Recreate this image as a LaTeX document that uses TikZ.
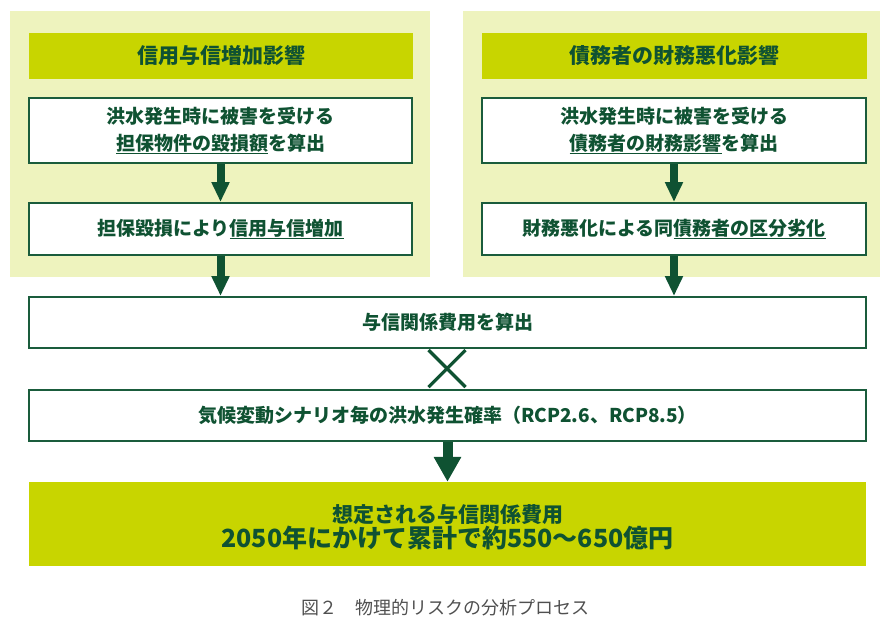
\documentclass[tikz,border=0pt]{standalone}
\usepackage{fontspec}
\setmainfont{Noto Sans CJK JP}
\usetikzlibrary{arrows.meta}
\definecolor{panelc}{HTML}{EEF3BE}
\definecolor{headc}{HTML}{C8D500}
\definecolor{dgreen}{HTML}{0F5232}
\definecolor{bordc}{HTML}{1A5C3C}
\definecolor{capc}{HTML}{505050}
\newcommand\ulx[1]{\setbox0\hbox{#1}\rlap{\color{dgreen}\rule[-3.5pt]{\wd0}{1.3pt}}\box0}
\tikzset{
  panel/.style={fill=panelc, draw=none, inner sep=0pt},
  headbox/.style={fill=headc, draw=none, inner sep=0pt, text=dgreen,
    font=\bfseries\fontsize{21}{26}\selectfont},
  stepbox/.style={fill=white, draw=bordc, line width=2pt, inner sep=0pt, text=dgreen,
    align=center, font=\bfseries\fontsize{19}{27}\selectfont},
  resultbox/.style={fill=headc, draw=none, inner sep=0pt},
  resulttext/.style={inner sep=0pt, text=dgreen, align=center},
  smallarr/.style={draw=dgreen, line width=8pt, -{Triangle[width=17pt,length=20pt]}},
  bigarr/.style={draw=dgreen, line width=10pt, -{Triangle[width=26pt,length=25pt]}},
  xmark/.style={draw=dgreen, line width=3.2pt},
}
\begin{document}
\begin{tikzpicture}[x=1pt,y=-1pt]
\useasboundingbox (0,0) rectangle (880,625);
% panels
\node[panel, minimum width=420pt, minimum height=266pt] (PL) at (220,144) {};
\node[panel, minimum width=417pt, minimum height=266pt] (PR) at (671.5,144) {};
% headers
\node[headbox, minimum width=384pt, minimum height=46pt] (HL) at (221,56) {信用与信増加影響};
\node[headbox, minimum width=385pt, minimum height=46pt] (HR) at (674.5,56) {債務者の財務悪化影響};
% step boxes
\node[stepbox, minimum width=383pt, minimum height=65pt] (L1) at (220.5,130.5)
  {洪水発生時に被害を受ける\\\ulx{担保物件の毀損額}を算出};
\node[stepbox, minimum width=383pt, minimum height=52pt] (L2) at (220.5,229)
  {担保毀損により\ulx{信用与信増加}};
\node[stepbox, minimum width=384pt, minimum height=65pt] (R1) at (674,130.5)
  {洪水発生時に被害を受ける\\\ulx{債務者の財務影響}を算出};
\node[stepbox, minimum width=384pt, minimum height=52pt] (R2) at (674,229)
  {財務悪化による同\ulx{債務者の区分劣化}};
\node[stepbox, minimum width=837pt, minimum height=51pt] (M) at (447.5,322.5)
  {与信関係費用を算出};
\node[stepbox, minimum width=837pt, minimum height=51pt] (P) at (447.5,415.5)
  {気候変動シナリオ毎の洪水発生確率（RCP2.6、RCP8.5）};
\node[resultbox, minimum width=837pt, minimum height=84pt] (F) at (447.5,524) {};
\node[resulttext] (FT) at (447.5,527)
  {{\bfseries\fontsize{21}{27}\selectfont 想定される与信関係費用}\\
   {\bfseries\fontsize{25}{27}\selectfont 2050年にかけて累計で約550～650億円}};
% caption
\node[text=capc, font=\fontsize{18}{20}\selectfont, inner sep=0pt] (C) at (445,608)
  {図２\hspace{1em}物理的リスクの分析プロセス};
% arrows
\draw[smallarr] (L1.south) -- (L2.north);
\draw[smallarr] (L2.south) -- (L2.south |- M.north);
\draw[smallarr] (R1.south) -- (R2.north);
\draw[smallarr] (R2.south) -- (R2.south |- M.north);
\draw[bigarr] (P.south) -- (F.north);
% multiplication mark
\coordinate (X) at (447,368.5);
\draw[xmark] ([shift={(-18.5,-18.5)}]X) -- ([shift={(18.5,18.5)}]X);
\draw[xmark] ([shift={(-18.5,18.5)}]X) -- ([shift={(18.5,-18.5)}]X);
\end{tikzpicture}
\end{document}
